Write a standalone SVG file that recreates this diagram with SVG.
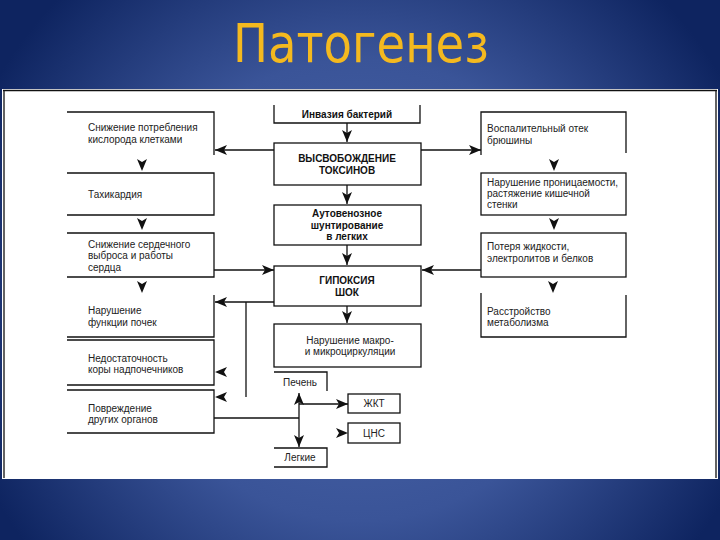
<svg xmlns="http://www.w3.org/2000/svg" xmlns:xlink="http://www.w3.org/1999/xlink" width="720" height="540" viewBox="0 0 720 540">
<style>
.ln{fill:none;stroke:#111;stroke-width:1.3}
.t{font-family:"Liberation Sans",Arial,sans-serif;font-size:10px;fill:#222}
.b{font-family:"Liberation Sans",Arial,sans-serif;font-size:10px;font-weight:bold;fill:#111;text-anchor:middle}
.c{text-anchor:middle}
.ah{fill:#111}
</style>
<defs>
<radialGradient id="bg" cx="360" cy="290" r="420" gradientUnits="userSpaceOnUse">
<stop offset="0" stop-color="#4C67AC"/>
<stop offset="0.55" stop-color="#3A5498"/>
<stop offset="1" stop-color="#0E2460"/>
</radialGradient>
<path id="ah" d="M0,0 L-12,-5 L-9,0 L-12,5 Z"/>
<marker id="m" markerUnits="userSpaceOnUse" markerWidth="13" markerHeight="11" viewBox="-13 -5.5 13 11" refX="0" refY="0" orient="auto">
<path d="M0,0 L-12,-5 L-9,0 L-12,5 Z" fill="#111"/>
</marker>
</defs>
<rect x="0" y="0" width="720" height="540" fill="url(#bg)"/>
<text x="361" y="62" font-family="'DejaVu Sans Condensed','DejaVu Sans',sans-serif" font-stretch="condensed" font-size="53" fill="#F4B91F" text-anchor="middle" textLength="256" lengthAdjust="spacingAndGlyphs">Патогенез</text>
<rect x="2" y="89" width="716" height="390" fill="#fff"/>
<path class="ln" d="M3,90.5 H717 M4,90 V478 M716,90 V478"/>

<g id="connectors">
<path class="ln" d="M347,123 V142" marker-end="url(#m)"/>
<path class="ln" d="M347,185 V204" marker-end="url(#m)"/>
<path class="ln" d="M347,245 V265" marker-end="url(#m)"/>
<path class="ln" d="M347,306 V323" marker-end="url(#m)"/>
<path class="ln" d="M274,150 H215" marker-end="url(#m)"/>
<path class="ln" d="M421,150 H481" marker-end="url(#m)"/>
<path class="ln" d="M214,270 H274" marker-end="url(#m)"/>
<path class="ln" d="M481,270 H422" marker-end="url(#m)"/>
<path class="ln" d="M274,302 H215" marker-end="url(#m)"/>
<path class="ln" d="M246,302 V397"/>
<path class="ln" d="M214,418 H299"/>
<path class="ln" d="M299,418 V393" marker-end="url(#m)"/>
<path class="ln" d="M299,418 V447" marker-end="url(#m)"/>
<path class="ln" d="M299,404 H348" marker-end="url(#m)"/>
<use xlink:href="#ah" class="ah" transform="translate(142,171) rotate(90)"/>
<use xlink:href="#ah" class="ah" transform="translate(142,230) rotate(90)"/>
<use xlink:href="#ah" class="ah" transform="translate(142,293) rotate(90)"/>
<use xlink:href="#ah" class="ah" transform="translate(554,171) rotate(90)"/>
<use xlink:href="#ah" class="ah" transform="translate(554,230) rotate(90)"/>
<use xlink:href="#ah" class="ah" transform="translate(553,293) rotate(90)"/>
<use xlink:href="#ah" class="ah" transform="translate(215,372) rotate(180)"/>
<use xlink:href="#ah" class="ah" transform="translate(215,397) rotate(180)"/>
<use xlink:href="#ah" class="ah" transform="translate(348,433)"/>
</g>

<g id="n-invasion">
<path class="ln" d="M274,105 V123 H420 V105"/>
<text class="b" x="347" y="118">Инвазия бактерий</text>
</g>
<g id="n-toxins">
<rect class="ln" x="274" y="143" width="147" height="42"/>
<text class="b" x="347" y="162">ВЫСВОБОЖДЕНИЕ</text>
<text class="b" x="347" y="174">ТОКСИНОВ</text>
</g>
<g id="n-shunt">
<rect class="ln" x="274" y="205" width="147" height="40"/>
<text class="b" x="347" y="217">Аутовенозное</text>
<text class="b" x="347" y="229">шунтирование</text>
<text class="b" x="347" y="240">в легких</text>
</g>
<g id="n-hypoxia">
<rect class="ln" x="274" y="266" width="147" height="40"/>
<text class="b" x="347" y="284">ГИПОКСИЯ</text>
<text class="b" x="347" y="296">ШОК</text>
</g>
<g id="n-micro">
<rect class="ln" x="274" y="324" width="147" height="43"/>
<text class="t c" x="350" y="344">Нарушение макро-</text>
<text class="t c" x="350" y="355">и микроциркуляции</text>
</g>
<g id="n-liver">
<path class="ln" d="M274,372 H327 V391"/>
<text class="t c" x="300" y="386">Печень</text>
</g>
<g id="n-gi">
<rect class="ln" x="348" y="394" width="52" height="19"/>
<text class="t c" x="374" y="407">ЖКТ</text>
</g>
<g id="n-cns">
<rect class="ln" x="348" y="423" width="52" height="20"/>
<text class="t c" x="374" y="437">ЦНС</text>
</g>
<g id="n-lungs">
<path class="ln" d="M274,448 H327 V467 H274"/>
<text class="t c" x="300" y="461">Легкие</text>
</g>

<g id="n-o2">
<path class="ln" d="M67,112 H214 V155"/>
<text class="t" x="88" y="131">Снижение потребления</text>
<text class="t" x="88" y="143">кислорода клетками</text>
</g>
<g id="n-tachy">
<path class="ln" d="M67,173 H214 V215 H67"/>
<text class="t" x="88" y="198">Тахикардия</text>
</g>
<g id="n-cardiac">
<path class="ln" d="M67,233 H214 V277 H67"/>
<text class="t" x="88" y="248">Снижение сердечного</text>
<text class="t" x="88" y="259">выброса и работы</text>
<text class="t" x="88" y="271">сердца</text>
</g>
<g id="n-kidney">
<path class="ln" d="M214,295 V337 H67"/>
<text class="t" x="88" y="314">Нарушение</text>
<text class="t" x="88" y="326">функции почек</text>
</g>
<g id="n-adrenal">
<path class="ln" d="M67,340 H214 V385 H67"/>
<text class="t" x="88" y="362">Недостаточность</text>
<text class="t" x="88" y="373">коры надпочечников</text>
</g>
<g id="n-organs">
<path class="ln" d="M67,390 H214 V433 H67"/>
<text class="t" x="88" y="412">Повреждение</text>
<text class="t" x="88" y="423">других органов</text>
</g>

<g id="n-edema">
<path class="ln" d="M481,155 V112 H626 V153"/>
<text class="t" x="487" y="132">Воспалительный отек</text>
<text class="t" x="487" y="144">брюшины</text>
</g>
<g id="n-permeab">
<rect class="ln" x="481" y="173" width="145" height="42"/>
<text class="t" x="487" y="186">Нарушение проницаемости,</text>
<text class="t" x="487" y="197">растяжение кишечной</text>
<text class="t" x="487" y="208">стенки</text>
</g>
<g id="n-fluid">
<rect class="ln" x="481" y="233" width="145" height="44"/>
<text class="t" x="487" y="250">Потеря жидкости,</text>
<text class="t" x="487" y="262">электролитов и белков</text>
</g>
<g id="n-metab">
<path class="ln" d="M481,293 V337 H626 V295"/>
<text class="t" x="487" y="315">Расстройство</text>
<text class="t" x="487" y="326">метаболизма</text>
</g>
</svg>
